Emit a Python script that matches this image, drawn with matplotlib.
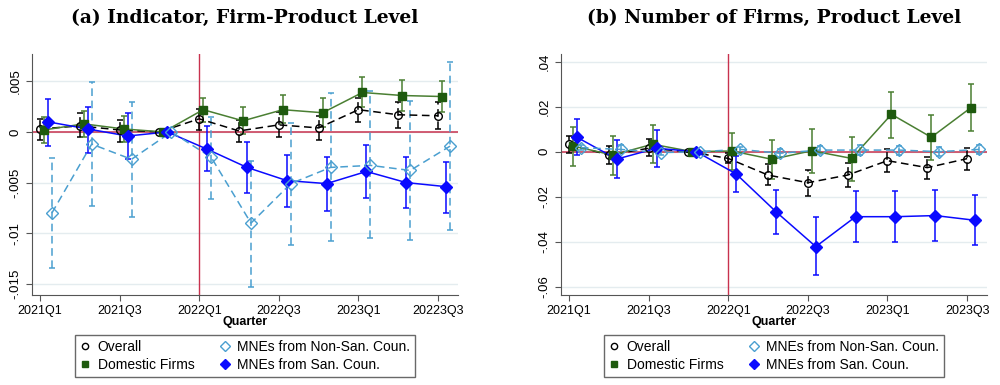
import matplotlib
matplotlib.use("Agg")
import matplotlib.pyplot as plt
import numpy as np
from matplotlib.lines import Line2D

plt.rcParams['font.family'] = ['Liberation Sans', 'DejaVu Sans']

quarters = ["2021Q1", "2021Q2", "2021Q3", "2021Q4", "2022Q1", "2022Q2",
            "2022Q3", "2022Q4", "2023Q1", "2023Q2", "2023Q3"]
ticklabels_a = ["2021Q1", "2021Q3", "2022Q1", "2022Q3", "2023Q1", "20223Q3"]
ticklabels_b = ["2021Q1", "2021Q3", "2022Q1", "2022Q3", "2023Q1", "2023Q3"]

# panel (a): indicator, firm-product level
a_overall = [0.0003, 0.0006, 0.0002, 0.0, 0.0013, 0.0001, 0.0007, 0.0004, 0.0022, 0.0017, 0.0016]
a_overall_lo = [-0.0008, -0.0005, -0.0010, 0.0, 0.0002, -0.0010, -0.0005, -0.0008, 0.0010, 0.0004, 0.0003]
a_overall_hi = [0.0013, 0.0019, 0.0012, 0.0, 0.0023, 0.0012, 0.0020, 0.0016, 0.0034, 0.0030, 0.0030]

a_dom = [0.0002, 0.0008, 0.0003, 0.0, 0.0022, 0.0011, 0.0022, 0.0019, 0.0039, 0.0036, 0.0035]
a_dom_lo = [-0.0011, -0.0005, -0.0010, 0.0, 0.0010, -0.0002, 0.0009, 0.0005, 0.0025, 0.0021, 0.0020]
a_dom_hi = [0.0015, 0.0021, 0.0016, 0.0, 0.0034, 0.0025, 0.0037, 0.0034, 0.0054, 0.0051, 0.0050]

a_nonsan = [-0.0080, -0.0012, -0.0027, 0.0, -0.0025, -0.0090, -0.0051, -0.0035, -0.0033, -0.0038, -0.0014]
a_nonsan_lo = [-0.0134, -0.0073, -0.0084, 0.0, -0.0066, -0.0153, -0.0112, -0.0108, -0.0105, -0.0107, -0.0097]
a_nonsan_hi = [-0.0026, 0.0049, 0.0030, 0.0, 0.0015, -0.0029, 0.0009, 0.0038, 0.0040, 0.0031, 0.0069]

a_san = [0.0010, 0.0003, -0.0004, 0.0, -0.0017, -0.0035, -0.0048, -0.0051, -0.0039, -0.0050, -0.0054]
a_san_lo = [-0.0014, -0.0021, -0.0027, 0.0, -0.0039, -0.0060, -0.0074, -0.0078, -0.0065, -0.0075, -0.0080]
a_san_hi = [0.0033, 0.0025, 0.0019, 0.0, 0.0006, -0.0010, -0.0023, -0.0025, -0.0013, -0.0025, -0.0030]

# panel (b): number of firms, product level
b_overall = [0.0033, -0.0015, 0.0015, 0.0, -0.0030, -0.0104, -0.0138, -0.0104, -0.0040, -0.0071, -0.0031]
b_overall_lo = [-0.0007, -0.0055, -0.0020, 0.0, -0.0052, -0.0150, -0.0195, -0.0155, -0.0089, -0.0121, -0.0081]
b_overall_hi = [0.0071, 0.0025, 0.0055, 0.0, -0.0007, -0.0055, -0.0081, -0.0052, 0.0012, -0.0022, 0.0018]

b_dom = [0.0025, -0.0015, 0.0033, 0.0, 0.0003, -0.0034, 0.0004, -0.0030, 0.0166, 0.0064, 0.0196]
b_dom_lo = [-0.0062, -0.0104, -0.0052, 0.0, -0.0081, -0.0123, -0.0093, -0.0130, 0.0059, -0.0037, 0.0092]
b_dom_hi = [0.0108, 0.0071, 0.0118, 0.0, 0.0081, 0.0052, 0.0101, 0.0067, 0.0267, 0.0163, 0.0301]

b_nonsan = [0.0018, 0.0010, -0.0004, 0.0, 0.0010, -0.0007, 0.0007, 0.0007, 0.0007, 0.0000, 0.0010]
b_nonsan_lo = [0.0007, -0.0007, -0.0015, 0.0, -0.0004, -0.0025, -0.0010, -0.0015, -0.0015, -0.0019, -0.0010]
b_nonsan_hi = [0.0030, 0.0030, 0.0010, 0.0, 0.0022, 0.0012, 0.0025, 0.0028, 0.0027, 0.0019, 0.0030]

b_san = [0.0064, -0.0033, 0.0015, 0.0, -0.0099, -0.0267, -0.0422, -0.0289, -0.0289, -0.0284, -0.0305]
b_san_lo = [-0.0015, -0.0118, -0.0067, 0.0, -0.0178, -0.0367, -0.0550, -0.0403, -0.0403, -0.0396, -0.0415]
b_san_hi = [0.0145, 0.0052, 0.0096, 0.0, -0.0019, -0.0170, -0.0292, -0.0175, -0.0173, -0.0170, -0.0194]

RED = "#c8324e"
GREEN_M = "#1e5a0e"
GREEN_L = "#4a7f32"
BLUE = "#0a0aff"
LBLUE = "#4a9fd0"


def fmt(v):
    if abs(v) < 1e-12:
        return "0"
    return ("%g" % v).replace("0.", ".")


def draw(ax, data, yticks, ylim, xlabels, title):
    x = np.arange(len(quarters))
    styles = [
        # key, offset, line colour, marker colour, marker, face, linestyle
        ("overall", 0.0, "black", "black", "o", "none", (0, (5, 3))),
        ("dom", 0.1, GREEN_L, GREEN_M, "s", GREEN_M, "-"),
        ("san", 0.2, BLUE, BLUE, "D", BLUE, "-"),
        ("nonsan", 0.3, LBLUE, LBLUE, "D", "none", (0, (5, 3))),
    ]
    ax.axhline(0, color=RED, lw=1.1, zorder=1)
    ax.axvline(4, color=RED, lw=1.0, zorder=1)
    for key, off, lc, mc, mk, mfc, ls in styles:
        y, lo, hi = data[key]
        y = np.array(y); lo = np.array(lo); hi = np.array(hi)
        xx = x + off
        eb = ax.errorbar(xx, y, yerr=[y - lo, hi - y], fmt="none", ecolor=lc,
                         elinewidth=1.1, capsize=2.5, capthick=1.1, zorder=2)
        if ls != "-":
            for l in eb.lines[2]:
                l.set_linestyle((0, (5, 3)))
        ms = 5.5 if mk == "o" else (6 if mk == "s" else 6.5)
        ax.plot(xx, y, color=lc, lw=1.1, ls=ls, zorder=3)
        ax.plot(xx, y, ls="none", marker=mk, ms=ms, mfc=mfc, mec=mc, mew=1.0, zorder=4)

    ax.set_xlim(-0.2, 10.5)
    ax.set_ylim(*ylim)
    ax.set_xticks(x[::2])
    ax.set_xticklabels(xlabels, fontsize=9)
    ax.set_yticks(yticks)
    ax.set_yticklabels([fmt(v) for v in yticks], rotation=90, va="center", fontsize=9.5)
    ax.yaxis.grid(True, color="#e4ecef", lw=1.0)
    ax.set_axisbelow(True)
    for s in ["top", "right"]:
        ax.spines[s].set_visible(False)
    for s in ["left", "bottom"]:
        ax.spines[s].set_color("#555555")
    ax.tick_params(colors="#555555", labelcolor="black", length=4)
    ax.set_xlabel("Quarter", fontsize=9, fontweight="bold", labelpad=-1)
    ax.set_title(title, fontsize=13.5, fontweight="bold", family="DejaVu Serif", pad=22)

    handles = [
        Line2D([], [], ls="none", marker="o", ms=4.5, mfc="none", mec="black"),
        Line2D([], [], ls="none", marker="s", ms=5, mfc=GREEN_M, mec=GREEN_M),
        Line2D([], [], ls="none", marker="D", ms=5, mfc="none", mec=LBLUE),
        Line2D([], [], ls="none", marker="D", ms=5, mfc=BLUE, mec=BLUE),
    ]
    labels = ["Overall", "Domestic Firms", "MNEs from Non-San. Coun.", "MNEs from San. Coun."]
    ax.legend(handles, labels, ncol=2, loc="upper center", bbox_to_anchor=(0.5, -0.165),
              fontsize=10, frameon=True, fancybox=False, edgecolor="#444444",
              handlelength=0.8, handletextpad=0.5, columnspacing=1.8,
              labelspacing=0.3, borderpad=0.35, borderaxespad=0)


fig = plt.figure(figsize=(10, 3.85), dpi=100)
ax1 = fig.add_axes([0.032, 1 - 295 / 385, 0.426, 241 / 385])
ax2 = fig.add_axes([0.561, 1 - 295 / 385, 0.426, 241 / 385])

data_a = {"overall": (a_overall, a_overall_lo, a_overall_hi),
          "dom": (a_dom, a_dom_lo, a_dom_hi),
          "san": (a_san, a_san_lo, a_san_hi),
          "nonsan": (a_nonsan, a_nonsan_lo, a_nonsan_hi)}
data_b = {"overall": (b_overall, b_overall_lo, b_overall_hi),
          "dom": (b_dom, b_dom_lo, b_dom_hi),
          "san": (b_san, b_san_lo, b_san_hi),
          "nonsan": (b_nonsan, b_nonsan_lo, b_nonsan_hi)}

draw(ax1, data_a, [0.005, 0, -0.005, -0.01, -0.015], (-0.0161, 0.0077),
     ticklabels_a, "(a) Indicator, Firm-Product Level")
draw(ax2, data_b, [0.04, 0.02, 0, -0.02, -0.04, -0.06], (-0.0637, 0.0434),
     ticklabels_b, "(b) Number of Firms, Product Level")

fig.savefig("out.png", dpi=100)
